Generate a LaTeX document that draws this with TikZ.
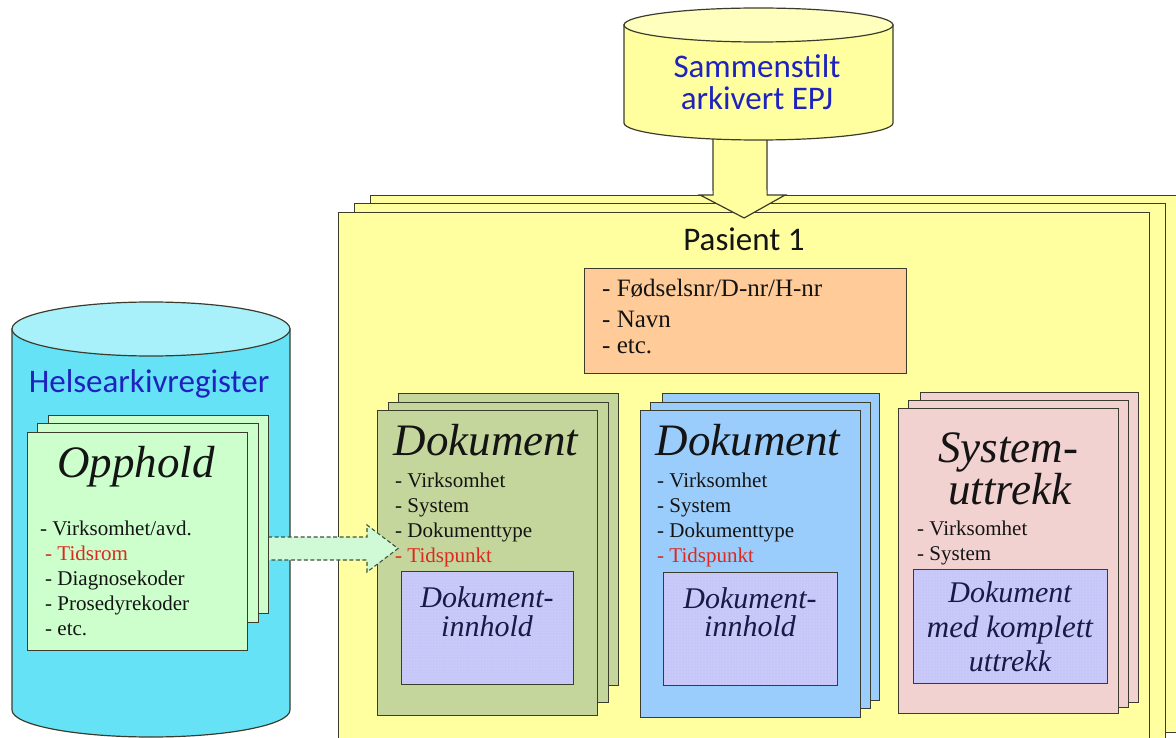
\documentclass[tikz,border=0pt]{standalone}
\usepackage{fontspec}
\setmainfont{Liberation Serif}
\newfontfamily\sansf{Carlito}
\usetikzlibrary{calc,patterns}
\definecolor{lc}{RGB}{60,60,45}
\definecolor{pasY}{RGB}{255,255,160}
\definecolor{epjTop}{RGB}{255,255,190}
\definecolor{orng}{RGB}{255,204,153}
\definecolor{docG}{RGB}{196,214,155}
\definecolor{docB}{RGB}{155,205,252}
\definecolor{docP}{RGB}{242,210,208}
\definecolor{lav}{RGB}{198,198,248}
\definecolor{lavdot}{RGB}{228,228,255}
\definecolor{oppG}{RGB}{204,255,204}
\definecolor{cyb}{RGB}{102,226,247}
\definecolor{cyt}{RGB}{168,240,250}
\definecolor{tblue}{RGB}{30,35,190}
\definecolor{tred}{RGB}{220,40,30}
\definecolor{tnavy}{RGB}{25,25,70}
\definecolor{tblk}{RGB}{20,20,20}
\definecolor{arrG}{RGB}{208,250,214}
\definecolor{arrL}{RGB}{60,85,60}
\begin{document}
\begin{tikzpicture}[x=1pt,y=-1pt,
  box/.style={draw=lc, line width=1.2pt, inner sep=0pt, anchor=north west},
  inbox/.style={box, preaction={fill=lav}, pattern=dots, pattern color=lavdot},
  lst/.style={inner sep=0pt, anchor=base west, text=tblk, font=\fontsize{21}{25}\selectfont},
  lstred/.style={lst, text=tred},
  olst/.style={lst, font=\fontsize{25}{28}\selectfont},
  ttl/.style={inner sep=0pt, anchor=base, text=tblk, font=\fontsize{45}{45}\selectfont\itshape},
  itx/.style={inner sep=0pt, anchor=base, text=tnavy, font=\fontsize{30}{30}\selectfont\itshape},
  sans/.style={inner sep=0pt, anchor=base, font=\fontsize{33}{33}\selectfont\sansf}
]
\clip (0,0) rectangle (1176,738);
\fill[white] (0,0) rectangle (1176,738);

% ---------- left cylinder: Helsearkivregister ----------
\filldraw[fill=cyb, draw=lc, line width=1.2pt] (12,329) -- (12,710)
  arc[start angle=180, end angle=360, x radius=139pt, y radius=27pt] -- (290,329) -- cycle;
\filldraw[fill=cyt, draw=lc, line width=1.2pt] (151,329) ellipse [x radius=139pt, y radius=27pt];
\node[sans, text=tblue] (helse) at (149,392) {Helsearkivregister};

% ---------- Pasient stack ----------
\node[box, fill=pasY, minimum width=815, minimum height=537] (pasB) at (370,195) {};
\node[box, fill=pasY, minimum width=811, minimum height=557] (pasM) at (354,203) {};
\node[box, fill=pasY, minimum width=811, minimum height=558] (pasF) at (338,212) {};
\node[sans, text=tblk] (pas) at (744,251) {Pasient 1};

% orange identity box
\node[box, fill=orng, minimum width=322, minimum height=105] (id) at (584,268) {};
\node[olst] (id1) at (602,297) {- Fødselsnr/D-nr/H-nr};
\node[olst] (id2) at (602,327) {- Navn};
\node[olst] (id3) at (602,353) {- etc.};

% ---------- Dokument stack 1 (green) ----------
\node[box, fill=docG, minimum width=220, minimum height=292] (d1B) at (398,393) {};
\node[box, fill=docG, minimum width=220, minimum height=300] (d1M) at (388,402) {};
\node[box, fill=docG, minimum width=220, minimum height=305] (d1F) at (377,410) {};
\node[ttl] (d1t) at (486,455) {Dokument};
\node[lst] (d1a) at (395,487) {- Virksomhet};
\node[lst] (d1b) at (395,512) {- System};
\node[lst] (d1c) at (395,537) {- Dokumenttype};
\node[lstred] (d1d) at (395,562) {- Tidspunkt};
\node[inbox, minimum width=172, minimum height=113] (d1i) at (401,571) {};
\node[itx] (d1i1) at (487,607) {Dokument-};
\node[itx] (d1i2) at (487,636) {innhold};

% ---------- Dokument stack 2 (blue) ----------
\node[box, fill=docB, minimum width=217, minimum height=307] (d2B) at (662,393) {};
\node[box, fill=docB, minimum width=220, minimum height=306] (d2M) at (650,402) {};
\node[box, fill=docB, minimum width=220, minimum height=307] (d2F) at (640,410) {};
\node[ttl] (d2t) at (748,455) {Dokument};
\node[lst] (d2a) at (657,487) {- Virksomhet};
\node[lst] (d2b) at (657,512) {- System};
\node[lst] (d2c) at (657,537) {- Dokumenttype};
\node[lstred] (d2d) at (657,562) {- Tidspunkt};
\node[inbox, minimum width=174, minimum height=113] (d2i) at (663,572) {};
\node[itx] (d2i1) at (750,608) {Dokument-};
\node[itx] (d2i2) at (750,636) {innhold};

% ---------- Systemuttrekk stack (pink) ----------
\node[box, fill=docP, minimum width=218, minimum height=310] (d3B) at (920,392) {};
\node[box, fill=docP, minimum width=220, minimum height=307] (d3M) at (908,400) {};
\node[box, fill=docP, minimum width=220, minimum height=305] (d3F) at (898,408) {};
\node[ttl] (d3t1) at (1008,462) {System-};
\node[ttl] (d3t2) at (1010,504) {uttrekk};
\node[lst] (d3a) at (917,535) {- Virksomhet};
\node[lst] (d3b) at (917,560) {- System};
\node[inbox, minimum width=194, minimum height=114] (d3i) at (913,569) {};
\node[itx] (d3i1) at (1010,602) {Dokument};
\node[itx, font=\fontsize{31}{31}\selectfont\itshape] (d3i2) at (1010,637) {med komplett};
\node[itx] (d3i3) at (1010,671) {uttrekk};

% ---------- big yellow arrow from the EPJ cylinder ----------
\coordinate (epjbot) at (740,132);
\coordinate (tip) at ($(pasF.north)+(0,6)$);
\filldraw[fill=pasY, draw=lc, line width=1.2pt, line join=miter]
  ($(epjbot)+(-27,0)$) -- ($(tip)+(-31,-23)$) -- ($(tip)+(-44,-23)$) -- (tip)
  -- ($(tip)+(41,-23)$) -- ($(tip)+(23,-23)$) -- ($(epjbot)+(27,0)$);

% ---------- top cylinder: Sammenstilt arkivert EPJ ----------
\filldraw[fill=pasY, draw=lc, line width=1.2pt] (624,25) -- (624,123)
  arc[start angle=180, end angle=360, x radius=134.5pt, y radius=17pt] -- (893,25) -- cycle;
\filldraw[fill=epjTop, draw=lc, line width=1.2pt] (758.5,25) ellipse [x radius=134.5pt, y radius=17pt];
\node[sans, text=tblue] (epj1) at (757,78) {Sammenstilt};
\node[sans, text=tblue] (epj2) at (757,110) {arkivert EPJ};

% ---------- dashed arrow Opphold -> Dokument ----------
\coordinate (dst) at (255,548.5);
\coordinate (dtip) at (398,548.5);
\filldraw[fill=arrG, draw=arrL, line width=1.1pt, dashed, dash pattern=on 4pt off 2.5pt]
  ($(dst)+(0,-11.5)$) -- ($(dtip)+(-31,-11.5)$) -- ($(dtip)+(-31,-23.5)$) -- (dtip)
  -- ($(dtip)+(-31,23.5)$) -- ($(dtip)+(-31,11.5)$) -- ($(dst)+(0,11.5)$);

% ---------- Opphold stack ----------
\node[box, fill=oppG, minimum width=220, minimum height=198] (opB) at (48,415) {};
\node[box, fill=oppG, minimum width=221, minimum height=199] (opM) at (37,423) {};
\node[box, fill=oppG, minimum width=220, minimum height=218] (opF) at (27,432) {};
\node[ttl] (opt) at (136,477) {Opphold};
\node[lst] (op1) at (40,535) {- Virksomhet/avd.};
\node[lstred] (op2) at (45,560) {- Tidsrom};
\node[lst] (op3) at (45,585) {- Diagnosekoder};
\node[lst] (op4) at (45,610) {- Prosedyrekoder};
\node[lst] (op5) at (45,635) {- etc.};
\end{tikzpicture}
\end{document}
